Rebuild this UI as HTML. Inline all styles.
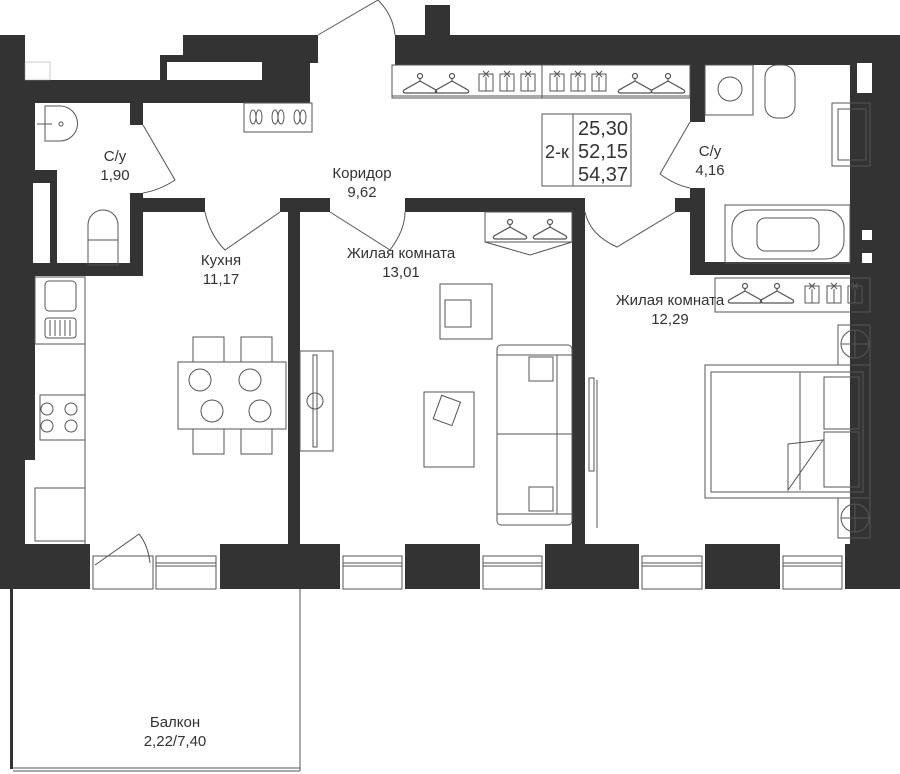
<!DOCTYPE html>
<html><head><meta charset="utf-8"><style>
html,body{margin:0;padding:0;background:#fff;width:900px;height:774px;overflow:hidden}
svg{display:block}
text{font-family:"Liberation Sans",sans-serif;fill:#333;font-size:15px;text-anchor:middle}
</style></head><body>
<svg width="900" height="774" viewBox="0 0 900 774" xmlns="http://www.w3.org/2000/svg">
<defs>
<g id="hanger" fill="none" stroke="#555" stroke-width="1.2">
<circle cx="0" cy="-8" r="2.5"/><path d="M0,-5.5 L0,-3 L-16,6 Q-18,9 -14,9 L14,9 Q18,9 16,6 L0,-3"/>
</g>
<g id="shirt" fill="none" stroke="#555" stroke-width="1">
<rect x="-7" y="-8" width="14" height="17"/><path d="M-3,-11 L3,-5 M3,-11 L-3,-5 M0,-5 L0,9"/>
</g>
<g id="shoe" fill="none" stroke="#555" stroke-width="1">
<ellipse cx="-3" cy="0" rx="3" ry="7"/><ellipse cx="3" cy="0" rx="3" ry="7"/>
</g>
</defs>
<g fill="#333">
<rect x="0" y="35" width="25" height="68"/>
<rect x="0" y="80" width="310" height="23"/>
<rect x="183" y="35" width="135" height="28"/>
<rect x="160" y="55" width="150" height="10"/>
<rect x="160" y="55" width="7" height="25"/>
<rect x="262" y="62" width="48" height="20"/>
<rect x="395" y="35" width="505" height="30"/>
<rect x="425" y="5" width="25" height="32"/>
<rect x="0" y="103" width="35" height="357"/>
<rect x="0" y="455" width="25" height="134"/>
<rect x="0" y="170" width="57" height="13"/>
<rect x="50" y="183" width="7" height="85"/>
<rect x="0" y="263" width="143" height="13"/>
<rect x="130" y="103" width="13" height="22"/>
<rect x="130" y="193" width="13" height="83"/>
<rect x="143" y="198" width="62" height="14"/>
<rect x="280" y="198" width="50" height="14"/>
<rect x="288" y="198" width="12" height="346"/>
<rect x="405" y="198" width="180" height="14"/>
<rect x="572" y="198" width="13" height="346"/>
<rect x="675" y="198" width="30" height="14"/>
<rect x="690" y="65" width="15" height="57"/>
<rect x="690" y="188" width="15" height="87"/>
<rect x="690" y="262" width="210" height="13"/>
<rect x="850" y="65" width="50" height="479"/>
<rect x="0" y="544" width="900" height="45"/>
<rect x="10" y="589" width="3" height="180"/>
</g>
<g fill="#fff">
<rect x="25" y="62" width="25" height="18" stroke="#999" stroke-width="0.5"/>
<rect x="167" y="62" width="95" height="18"/>
<rect x="33" y="183" width="17" height="80"/>
<rect x="857" y="63" width="15" height="30"/>
<rect x="862" y="230" width="10" height="10"/>
<rect x="862" y="253" width="10" height="10"/>
<rect x="90" y="544" width="130" height="45"/>
<rect x="340" y="544" width="65" height="45"/>
<rect x="480" y="544" width="65" height="45"/>
<rect x="639" y="544" width="66" height="45"/>
<rect x="780" y="544" width="65" height="45"/>
</g>
<g fill="none" stroke="#555" stroke-width="1">
<rect x="93" y="556" width="60" height="33"/>
<rect x="156" y="556" width="60" height="33"/><path d="M156,563H216M156,566H216"/>
<rect x="343" y="556" width="59" height="33"/><path d="M343,563H402M343,566H402"/>
<rect x="483" y="556" width="59" height="33"/><path d="M483,563H542M483,566H542"/>
<rect x="642" y="556" width="60" height="33"/><path d="M642,563H702M642,566H702"/>
<rect x="783" y="556" width="59" height="33"/><path d="M783,563H842M783,566H842"/>
<path d="M95,565 L139,534 Q148,545 150,563"/>
<path d="M300,589 V771 M13,768 H300 M13,771 H300"/>
<path d="M318,35 L378,0 Q393,15 395,35"/>
<path d="M143,125 L175,180 Q160,190 143,193"/>
<path d="M205,212 Q210,235 225,250 L280,212"/>
<path d="M330,212 L390,250 Q405,230 405,212"/>
<path d="M585,212 Q590,235 617,247 L675,212"/>
<path d="M690,122 L660,174 Q675,185 690,188"/>
<rect x="244" y="103" width="68" height="29"/>
<rect x="392" y="65" width="298" height="33"/><path d="M542,65V98M392,96H690"/>
<path d="M45,106 V141 H60 A17,17 0 0 0 60,106 Z"/><circle cx="61" cy="124" r="2"/><path d="M37,124H52"/>
<rect x="88" y="240" width="30" height="25"/><path d="M88,240 V225 A15,15 0 0 1 118,225 V240"/>
<rect x="35" y="277" width="50" height="67"/>
<rect x="45" y="281" width="31" height="30" rx="4"/><rect x="45" y="318" width="31" height="20" rx="3"/>
<path d="M50,320V336M55,320V336M60,320V336M65,320V336M70,320V336"/>
<path d="M85,344 V544"/>
<rect x="40" y="395" width="45" height="45"/>
<circle cx="47" cy="409" r="6"/><circle cx="71" cy="409" r="6"/><circle cx="47" cy="426" r="6"/><circle cx="71" cy="426" r="6"/>
<rect x="35" y="488" width="50" height="53"/>
<rect x="178" y="362" width="108" height="67"/>
<rect x="193" y="337" width="31" height="25"/><rect x="241" y="337" width="31" height="25"/>
<rect x="193" y="429" width="31" height="25"/><rect x="241" y="429" width="31" height="25"/>
<circle cx="200" cy="380" r="11"/><circle cx="250" cy="380" r="11"/><circle cx="212" cy="411" r="11"/><circle cx="260" cy="411" r="11"/>
<rect x="300" y="351" width="33" height="100"/><rect x="313" y="355" width="4" height="92"/><circle cx="315" cy="401" r="8"/>
<rect x="485" y="212" width="87" height="30"/><path d="M485,242 L530,255 L572,242"/>
<rect x="440" y="284" width="52" height="55"/><rect x="445" y="300" width="26" height="27"/>
<rect x="424" y="392" width="50" height="75"/>
<rect x="437" y="398" width="20" height="25" transform="rotate(20 447 410)"/>
<rect x="497" y="345" width="75" height="180" rx="4"/>
<path d="M497,355H572M497,434H572M497,514H572M557,355V514"/>
<rect x="529" y="357" width="24" height="24"/><rect x="529" y="487" width="24" height="24"/>
<rect x="589" y="378" width="5" height="93"/><path d="M597,380V528"/>
<rect x="715" y="278" width="155" height="34"/><path d="M792,312H870"/>
<rect x="705" y="365" width="165" height="133"/><rect x="711" y="372" width="152" height="120"/>
<path d="M800,372V490"/>
<rect x="824" y="377" width="35" height="52"/><rect x="824" y="432" width="35" height="55"/>
<path d="M788,444 L823,440 L788,490 Z"/>
<rect x="838" y="325" width="32" height="40"/><circle cx="855" cy="344" r="14"/><path d="M855,330V358M841,344H869"/>
<rect x="838" y="498" width="32" height="40"/><circle cx="855" cy="518" r="14"/><path d="M855,504V532M841,518H869"/>
<rect x="705" y="65" width="48" height="50"/><circle cx="730" cy="89" r="12"/>
<rect x="765" y="65" width="30" height="53" rx="12"/>
<rect x="832" y="103" width="38" height="63"/><rect x="838" y="109" width="28" height="51"/>
<rect x="725" y="205" width="125" height="58"/><rect x="732" y="210" width="112" height="49" rx="18"/><rect x="757" y="218" width="62" height="33" rx="8"/>
<rect x="542" y="114" width="89" height="72"/><path d="M573,114V186"/>
</g>
<g>
<use href="#hanger" x="420" y="84"/><use href="#hanger" x="452" y="84"/>
<use href="#shirt" x="486" y="82"/><use href="#shirt" x="507" y="82"/><use href="#shirt" x="528" y="82"/>
<use href="#shirt" x="557" y="82"/><use href="#shirt" x="578" y="82"/><use href="#shirt" x="599" y="82"/>
<use href="#hanger" x="635" y="84"/><use href="#hanger" x="668" y="84"/>
<use href="#hanger" x="510" y="230"/><use href="#hanger" x="550" y="230"/>
<use href="#hanger" x="745" y="294"/><use href="#hanger" x="777" y="294"/>
<use href="#shirt" x="812" y="294"/><use href="#shirt" x="834" y="294"/><use href="#shirt" x="855" y="294"/>
<use href="#shoe" x="256" y="117"/><use href="#shoe" x="278" y="117"/><use href="#shoe" x="300" y="117"/>
</g>
<g>
<text x="115" y="161">С/у</text><text x="115" y="180">1,90</text>
<text x="362" y="178">Коридор</text><text x="362" y="197">9,62</text>
<text x="221" y="265">Кухня</text><text x="221" y="284">11,17</text>
<text x="401" y="258">Жилая комната</text><text x="401" y="277">13,01</text>
<text x="670" y="305">Жилая комната</text><text x="670" y="324">12,29</text>
<text x="710" y="156">С/у</text><text x="710" y="175">4,16</text>
<text x="175" y="727">Балкон</text><text x="175" y="746">2,22/7,40</text>
<text x="557" y="158" style="font-size:18px">2-к</text>
<text x="603" y="135" style="font-size:20px">25,30</text>
<text x="603" y="158" style="font-size:20px">52,15</text>
<text x="603" y="181" style="font-size:20px">54,37</text>
</g>
</svg>
</body></html>
